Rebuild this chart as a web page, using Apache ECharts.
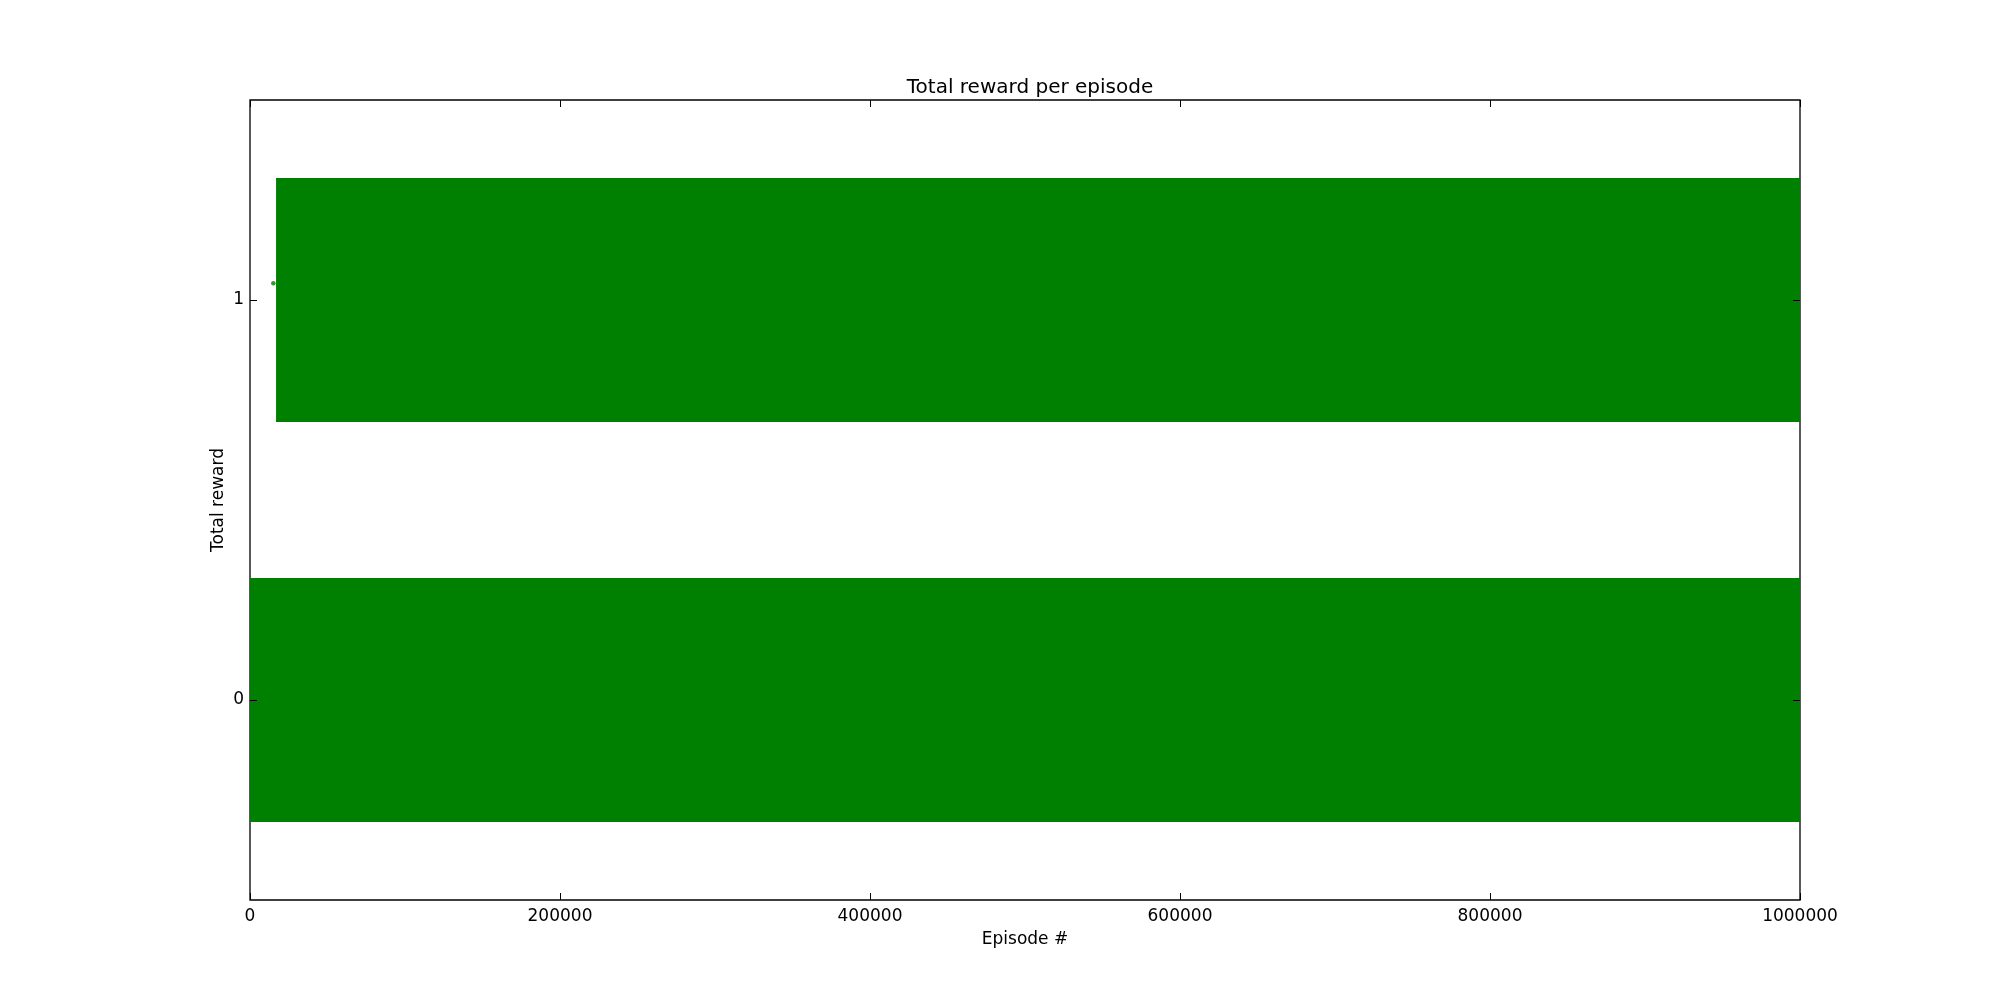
<!DOCTYPE html>
<html>
<head>
<meta charset="utf-8">
<script src="https://cdn.jsdelivr.net/npm/echarts@6/dist/echarts.min.js"></script>
<style>html,body{margin:0;padding:0;background:#fff}#c{width:2000px;height:1000px}</style>
</head>
<body>
<div id="c"></div>
<script>
// Episodes where each dense band of rewards runs
var bandStartEpisode = [0, 16800];
var bandEndEpisode = [1000000, 1000000];
var bandReward = [0, 1];
var bandSpread = [0.305, 0.305];   // half height of the scatter cloud, in reward units
// isolated point left of the upper band
var strayPoints = [[15050, 1.042]];
var xTicks = [0, 200000, 400000, 600000, 800000, 1000000];
var yTicks = [0, 1];

var bandData = bandStartEpisode.map(function (s, i) {
  return [s, bandEndEpisode[i], bandReward[i] - bandSpread[i], bandReward[i] + bandSpread[i]];
});

var FONT = 'DejaVu Sans';
var TICK_LEN = 7;
var chart = echarts.init(document.getElementById('c'), null, {renderer: 'canvas'});

function crisp(v) { return Math.round(v) + 0.5; }

chart.setOption({
  animation: false,
  backgroundColor: '#fff',
  title: {
    text: 'Total reward per episode', left: 1025, textAlign: 'center', top: 73,
    textStyle: {fontFamily: FONT, fontSize: 20, fontWeight: 'normal', color: '#000'}
  },
  grid: {left: 250, right: 200, top: 100, bottom: 100, show: true, borderColor: '#000', borderWidth: 1.3, backgroundColor: 'transparent'},
  xAxis: {
    type: 'value', min: 0, max: 1000000, interval: 200000,
    axisLine: {show: false}, splitLine: {show: false}, axisTick: {show: false},
    name: 'Episode #', nameLocation: 'middle', nameGap: 31,
    nameTextStyle: {fontFamily: FONT, fontSize: 17, color: '#000'},
    axisLabel: {show: true, margin: 8, fontFamily: FONT, fontSize: 17, color: '#000',
      formatter: function (v) { return xTicks.indexOf(v) >= 0 ? String(v) : ''; }}
  },
  yAxis: {
    type: 'value', min: -0.5, max: 1.5,
    axisLine: {show: false}, splitLine: {show: false}, axisTick: {show: false},
    name: 'Total reward', nameLocation: 'middle', nameGap: 23, nameRotate: 90,
    nameMoveOverlap: false,
    nameTextStyle: {fontFamily: FONT, fontSize: 17, color: '#000'},
    axisLabel: {show: true, margin: 6, customValues: yTicks, fontFamily: FONT, fontSize: 17, color: '#000'}
  },
  series: [
    {
      type: 'custom',
      clip: true,
      data: bandData,
      encode: {x: [0, 1], y: [2, 3]},
      renderItem: function (params, api) {
        var p1 = api.coord([api.value(0), api.value(3)]);
        var p2 = api.coord([api.value(1), api.value(2)]);
        var rect = echarts.graphic.clipRectByRect(
          {x: p1[0], y: p1[1], width: p2[0] - p1[0], height: p2[1] - p1[1]},
          {x: params.coordSys.x, y: params.coordSys.y, width: params.coordSys.width, height: params.coordSys.height}
        );
        return rect && {type: 'rect', shape: rect, style: {fill: '#008000'}};
      },
      z: 1
    },
    {
      type: 'scatter',
      data: strayPoints,
      symbol: 'circle', symbolSize: 4.5,
      itemStyle: {color: '#008000'},
      z: 2
    },
    {
      // inward ticks on bottom and top edges, at the x tick values
      type: 'custom',
      clip: false,
      silent: true,
      data: xTicks.map(function (v) { return [v, 0]; }),
      encode: {x: 0, y: 1},
      renderItem: function (params, api) {
        var cs = params.coordSys;
        var x = crisp(api.coord([api.value(0), 0])[0]);
        var top = cs.y, bot = cs.y + cs.height;
        var st = {stroke: '#000', lineWidth: 1};
        return {type: 'group', children: [
          {type: 'line', shape: {x1: x, y1: bot, x2: x, y2: bot - TICK_LEN}, style: st},
          {type: 'line', shape: {x1: x, y1: top, x2: x, y2: top + TICK_LEN}, style: st}
        ]};
      },
      z: 5
    },
    {
      // inward ticks on left and right edges, at the y tick values
      type: 'custom',
      clip: false,
      silent: true,
      data: yTicks.map(function (v) { return [0, v]; }),
      encode: {x: 0, y: 1},
      renderItem: function (params, api) {
        var cs = params.coordSys;
        var y = crisp(api.coord([0, api.value(1)])[1]);
        var left = cs.x, right = cs.x + cs.width;
        var st = {stroke: '#000', lineWidth: 1};
        return {type: 'group', children: [
          {type: 'line', shape: {x1: left, y1: y, x2: left + TICK_LEN, y2: y}, style: st},
          {type: 'line', shape: {x1: right, y1: y, x2: right - TICK_LEN, y2: y}, style: st}
        ]};
      },
      z: 5
    }
  ]
});
</script>
</body>
</html>
